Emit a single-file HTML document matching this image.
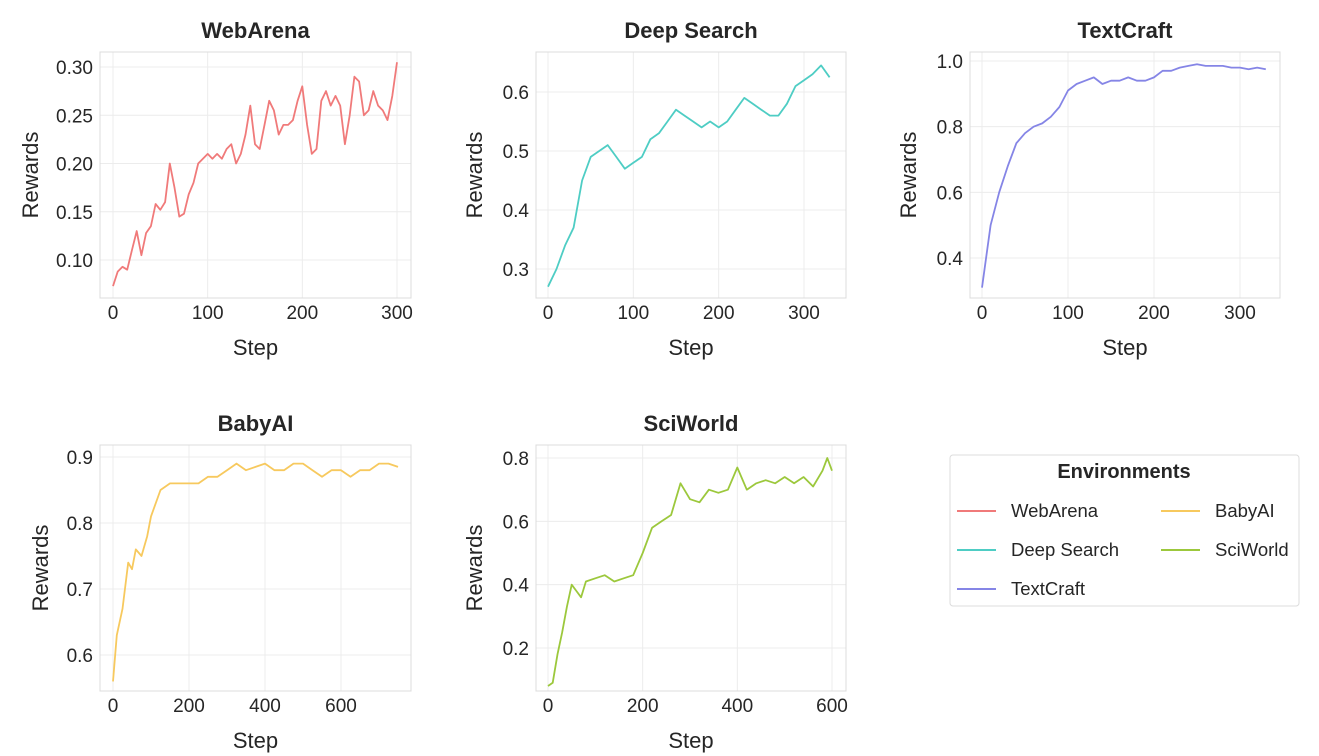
<!DOCTYPE html>
<html><head><meta charset="utf-8"><style>
body{margin:0;background:#fff;}
svg{display:block;font-family:"Liberation Sans",Arial,sans-serif;}
</style></head><body>
<svg id="c" width="1319" height="756" viewBox="0 0 1319 756"></svg>
<script>
const waX=[0,5,10,15,20,25,30,35,40,45,50,55,60,65,70,75,80,85,90,95,100,105,110,115,120,125,130,135,140,145,150,155,160,165,170,175,180,185,190,195,200,205,210,215,220,225,230,235,240,245,250,255,260,265,270,275,280,285,290,295,300];
const waY=[0.073,0.088,0.093,0.09,0.11,0.13,0.105,0.128,0.135,0.158,0.152,0.16,0.2,0.175,0.145,0.148,0.168,0.18,0.2,0.205,0.21,0.205,0.21,0.205,0.215,0.22,0.2,0.21,0.23,0.26,0.22,0.215,0.24,0.265,0.255,0.23,0.24,0.24,0.245,0.265,0.28,0.24,0.21,0.215,0.265,0.275,0.26,0.27,0.26,0.22,0.25,0.29,0.285,0.25,0.255,0.275,0.26,0.255,0.245,0.27,0.305];
const dsX=[0,10,20,30,40,50,60,70,80,90,100,110,120,130,140,150,160,170,180,190,200,210,220,230,240,250,260,270,280,290,300,310,320,330];
const dsY=[0.27,0.3,0.34,0.37,0.45,0.49,0.5,0.51,0.49,0.47,0.48,0.49,0.52,0.53,0.55,0.57,0.56,0.55,0.54,0.55,0.54,0.55,0.57,0.59,0.58,0.57,0.56,0.56,0.58,0.61,0.62,0.63,0.645,0.625];
const tcX=[0,10,20,30,40,50,60,70,80,90,100,110,120,130,140,150,160,170,180,190,200,210,220,230,240,250,260,270,280,290,300,310,320,330];
const tcY=[0.31,0.5,0.6,0.68,0.75,0.78,0.8,0.81,0.83,0.86,0.91,0.93,0.94,0.95,0.93,0.94,0.94,0.95,0.94,0.94,0.95,0.97,0.97,0.98,0.985,0.99,0.985,0.985,0.985,0.98,0.98,0.975,0.98,0.975];
const baX=[0,10,25,40,50,60,75,90,100,125,150,175,200,225,250,275,300,325,350,375,400,425,450,475,500,525,550,575,600,625,650,675,700,725,750];
const baY=[0.56,0.63,0.67,0.74,0.73,0.76,0.75,0.78,0.81,0.85,0.86,0.86,0.86,0.86,0.87,0.87,0.88,0.89,0.88,0.885,0.89,0.88,0.88,0.89,0.89,0.88,0.87,0.88,0.88,0.87,0.88,0.88,0.89,0.89,0.885];
const swX=[0,10,20,30,40,50,60,70,80,100,120,140,160,180,200,220,240,260,280,300,320,340,360,380,400,420,440,460,480,500,520,540,560,580,590,600];
const swY=[0.08,0.09,0.18,0.25,0.33,0.4,0.38,0.36,0.41,0.42,0.43,0.41,0.42,0.43,0.5,0.58,0.6,0.62,0.72,0.67,0.66,0.7,0.69,0.7,0.77,0.7,0.72,0.73,0.72,0.74,0.72,0.74,0.71,0.76,0.8,0.76];
const waXT=[0,100,200,300], waYT=[0.10,0.15,0.20,0.25,0.30];
const dsXT=[0,100,200,300], dsYT=[0.3,0.4,0.5,0.6];
const tcXT=[0,100,200,300], tcYT=[0.4,0.6,0.8,1.0];
const baXT=[0,200,400,600], baYT=[0.6,0.7,0.8,0.9];
const swXT=[0,200,400,600], swYT=[0.2,0.4,0.6,0.8];

const NS="http://www.w3.org/2000/svg", svg=document.getElementById('c');
function mk(tag,attrs,parent,txt){const e=document.createElementNS(NS,tag);for(const k in attrs)e.setAttribute(k,attrs[k]);if(txt!==undefined)e.textContent=txt;(parent||svg).appendChild(e);return e;}
function panel(o){
  const g=mk('g',{});
  
  
  const sx=v=>o.px0+(v-o.x0)*(o.px1-o.px0)/(o.x1-o.x0);
  const sy=v=>o.py0+(v-o.y0)*(o.py1-o.py0)/(o.y1-o.y0);
  o.xt.forEach(t=>{mk('line',{x1:sx(t),x2:sx(t),y1:o.top,y2:o.bot,stroke:'#ececec','stroke-width':1},g);
    const l=mk('text',{x:sx(t),y:o.bot+21,'text-anchor':'middle','font-size':19,fill:'#262626'},g,String(t));
    });
  o.yt.forEach(t=>{mk('line',{x1:o.left,x2:o.right,y1:sy(t),y2:sy(t),stroke:'#ececec','stroke-width':1},g);
    const l=mk('text',{x:o.left-7,y:sy(t)+7,'text-anchor':'end','font-size':19,fill:'#262626'},g,t.toFixed(o.dec));
    });
  mk('rect',{x:o.left,y:o.top,width:o.right-o.left,height:o.bot-o.top,fill:'none',stroke:'#dcdcdc','stroke-width':1},g);
  const d=o.xs.map((x,i)=>(i?'L':'M')+sx(x).toFixed(1)+','+sy(o.ys[i]).toFixed(1)).join('');
  const p=mk('path',{d:d,fill:'none',stroke:o.color,'stroke-width':1.8,'stroke-linejoin':'round'},g);
  
  const t=mk('text',{x:(o.left+o.right)/2,y:o.top-14,'text-anchor':'middle','font-size':22,'font-weight':'bold',fill:'#262626'},g,o.title);
  
  const xl=mk('text',{x:(o.left+o.right)/2,y:o.bot+57,'text-anchor':'middle','font-size':22,fill:'#262626'},g,'Step');
  
  const cy=(o.top+o.bot)/2, cx=o.ylx;
  const yl=mk('text',{x:cx,y:cy,'text-anchor':'middle','font-size':22,fill:'#262626',transform:`rotate(-90 ${cx} ${cy})`},g,'Rewards');
  
}
panel({key:'webarena',title:'WebArena',left:100,right:411,top:52,bot:298,x0:0,x1:300,px0:113,px1:397,y0:0.10,y1:0.30,py0:260,py1:67,xs:waX,ys:waY,xt:waXT,yt:waYT,dec:2,color:'#f07a7a',ylx:38});
panel({key:'deep-search',title:'Deep Search',left:536,right:846,top:52,bot:298,x0:0,x1:300,px0:548,px1:804,y0:0.3,y1:0.6,py0:269,py1:92,xs:dsX,ys:dsY,xt:dsXT,yt:dsYT,dec:1,color:'#4ecdc4',ylx:482});
panel({key:'textcraft',title:'TextCraft',left:970,right:1280,top:52,bot:298,x0:0,x1:300,px0:982,px1:1240,y0:0.4,y1:1.0,py0:258,py1:61,xs:tcX,ys:tcY,xt:tcXT,yt:tcYT,dec:1,color:'#8585e6',ylx:916});
panel({key:'babyai',title:'BabyAI',left:100,right:411,top:445,bot:691,x0:0,x1:600,px0:113,px1:341,y0:0.6,y1:0.9,py0:655,py1:457,xs:baX,ys:baY,xt:baXT,yt:baYT,dec:1,color:'#f7c95e',ylx:48});
panel({key:'sciworld',title:'SciWorld',left:536,right:846,top:445,bot:691,x0:0,x1:600,px0:548,px1:832,y0:0.2,y1:0.8,py0:648,py1:458,xs:swX,ys:swY,xt:swXT,yt:swYT,dec:1,color:'#9cc83c',ylx:482});

const lg=mk('g',{});


mk('rect',{x:950,y:455,width:349,height:151,rx:3,fill:'#fff',stroke:'#dcdcdc'},lg);
mk('text',{x:1124,y:478,'text-anchor':'middle','font-size':20,'font-weight':'bold',fill:'#262626'},lg,'Environments');
const legNames=['WebArena','BabyAI','Deep Search','SciWorld','TextCraft'];
const legCols=['#f07a7a','#f7c95e','#4ecdc4','#9cc83c','#8585e6'];
legNames.forEach((n,i)=>{const col=i%2,row=Math.floor(i/2);const x=col?1161:957,y=511+row*39;
  const e=mk('g',{},lg);
  
  
  mk('line',{x1:x,x2:x+39,y1:y,y2:y,stroke:legCols[i],'stroke-width':2},e);
  mk('text',{x:x+54,y:y+6,'font-size':18.5,fill:'#262626'},e,n);});
</script>
</body></html>
